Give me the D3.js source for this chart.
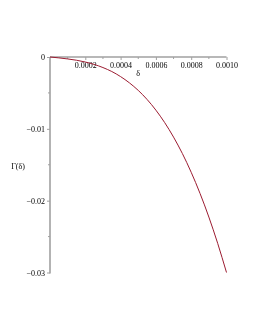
<!DOCTYPE html>
<html>
<head>
<meta charset="utf-8">
<script src="https://cdn.jsdelivr.net/npm/d3@7"></script>
<style>
  html, body { margin: 0; padding: 0; background: #fff; }
  svg { display: block; }
  .axis path, .axis line { stroke: #a0a0a0; }
  text { font-family: "Liberation Serif", "DejaVu Serif", serif; font-size: 8px; fill: #000; will-change: transform; }
</style>
</head>
<body>
<svg width="255" height="330"></svg>
<script>
// values
var deltaValues = [0, 0.00005, 0.0001, 0.00015, 0.0002, 0.00025, 0.0003, 0.00035, 0.0004, 0.00045, 0.0005,
                   0.00055, 0.0006, 0.00065, 0.0007, 0.00075, 0.0008, 0.00085, 0.0009, 0.00095, 0.001];
var gammaValues = [0, -0.00012, -0.00027, -0.00045, -0.0007, -0.00103, -0.00147, -0.00202, -0.00273, -0.0036, -0.00465,
                   -0.00591, -0.0074, -0.00914, -0.01115, -0.01344, -0.01605, -0.01899, -0.02228, -0.02594, -0.0300];
var xTicks = [0.0002, 0.0004, 0.0006, 0.0008, 0.0010];
var xMinorTicks = [0.0001, 0.0003, 0.0005, 0.0007, 0.0009];
var yTicks = [0, -0.01, -0.02, -0.03];
var yMinorTicks = [-0.005, -0.015, -0.025];

var svg = d3.select('svg');

var x = d3.scaleLinear().domain([0, 0.001]).range([50, 226.5]);
var y = d3.scaleLinear().domain([0, -0.03]).range([57, 272.5]);

// y axis
var yAxis = svg.append('g')
    .attr('class', 'axis')
    .attr('transform', 'translate(' + x(0) + ',0)');
yAxis.call(d3.axisLeft(y)
    .tickValues(yTicks)
    .tickSize(3)
    .tickPadding(2)
    .tickFormat(function(d) { return d === 0 ? '0' : d3.format('.2f')(d); }));
yAxis.select('.domain').attr('d', 'M0,' + y(0) + 'V' + (y(-0.03) + 1)).attr('stroke-width', 1.6);
yAxis.selectAll('.minor')
    .data(yMinorTicks)
    .enter().append('line')
    .attr('class', 'minor')
    .attr('x1', -2).attr('x2', 0)
    .attr('y1', function(d) { return y(d); })
    .attr('y2', function(d) { return y(d); });

// x axis
var xAxis = svg.append('g')
    .attr('class', 'axis')
    .attr('transform', 'translate(0,' + y(0) + ')');
xAxis.call(d3.axisBottom(x)
    .tickValues(xTicks)
    .tickSize(3)
    .tickPadding(2)
    .tickFormat(d3.format('.4f')));
xAxis.select('.domain').attr('d', 'M' + x(0) + ',0H' + x(0.001)).attr('stroke-width', 1.6);
xAxis.selectAll('.minor')
    .data(xMinorTicks)
    .enter().append('line')
    .attr('class', 'minor')
    .attr('y1', 0).attr('y2', 2)
    .attr('x1', function(d) { return x(d); })
    .attr('x2', function(d) { return x(d); });

// axis titles
svg.append('text')
    .attr('x', (x(0) + x(0.001)) / 2)
    .attr('y', 76)
    .attr('text-anchor', 'middle')
    .text('δ');

svg.append('text')
    .attr('x', 18)
    .attr('y', 169)
    .attr('text-anchor', 'middle')
    .text('Γ(δ)');

// curve
var line = d3.line()
    .x(function(d, i) { return x(deltaValues[i]); })
    .y(function(d) { return y(d); })
    .curve(d3.curveMonotoneX);

svg.append('path')
    .datum(gammaValues)
    .attr('d', line)
    .attr('fill', 'none')
    .attr('stroke', '#9b1b30')
    .attr('stroke-width', 1);
</script>
</body>
</html>
